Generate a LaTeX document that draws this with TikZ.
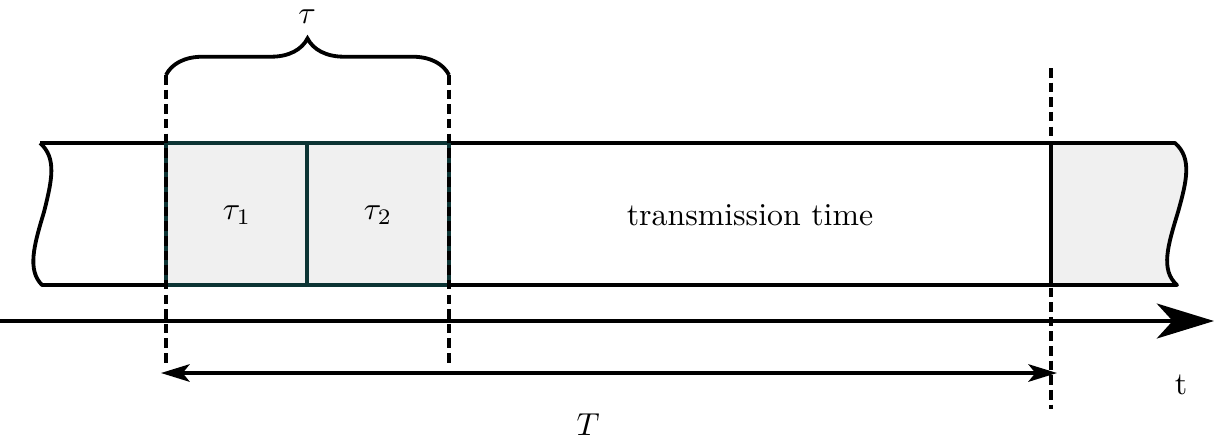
\documentclass[tikz,border=0pt]{standalone}
\usetikzlibrary{arrows.meta,decorations.pathreplacing}
\definecolor{cellgray}{RGB}{240,240,240}
\definecolor{celledge}{RGB}{12,52,52}

\begin{document}
\begin{tikzpicture}[x=0.01105cm,y=-0.01105cm,
  band/.style={line width=1.2pt, line join=round},
  cell/.style={draw=celledge, line width=1.2pt},
  guide/.style={line width=1.05pt, dash pattern=on 3pt off 1.6pt},
  axis/.style={-{Stealth[length=18pt,width=11pt,inset=5pt]}, line width=1.1pt},
  span/.style={{Stealth[length=9pt,width=5.5pt,inset=2.2pt]}-{Stealth[length=9pt,width=5.5pt,inset=2.2pt]}, line width=1.1pt},
  lbl/.style={inner sep=1pt}
]
\useasboundingbox (0,0) rectangle (1214,445);

% Key points
\coordinate (b1) at (166,143);
\coordinate (b2) at (449,285);
\coordinate (tx) at (0,321);
\coordinate (ty) at (1214,321);
\coordinate (Tl) at (161,373);
\coordinate (Tr) at (1057,373);

% Shaded parts
\fill[cellgray] (b1) rectangle (b2);
\fill[cellgray] (1051,143) -- (1175,143)
  .. controls (1192,158) and (1187,180) .. (1178,212)
  .. controls (1168,245) and (1160,270) .. (1177,285) -- (1051,285) -- cycle;

% Band
\draw[band] (40,143) -- (1175,143)
  .. controls (1192,158) and (1187,180) .. (1178,212)
  .. controls (1168,245) and (1160,270) .. (1177,285) -- (42,285)
  .. controls (27,270) and (34,245) .. (44,212)
  .. controls (52,180) and (57,158) .. (40,143);
\draw[band] (1051,143) -- (1051,285);

% Preamble cells
\draw[cell] (b1) rectangle (b2);
\draw[cell] (307,143) -- (307,285);
\node[lbl] (tau1) at (237,215) {$\tau_1$};
\node[lbl] (tau2) at (378,215) {$\tau_2$};
\node[lbl] (tx-time) at (750,215) {transmission time};

% Guide lines
\draw[guide] (166,75) -- (166,367);
\draw[guide] (449,75) -- (449,365);
\draw[guide] (1051,68) -- (1051,409);

% Brace
\draw[line width=1.2pt, decorate, decoration={brace, amplitude=11.5pt}]
  (166,75) -- (449,75);
\node[lbl] (tau) at (307,17) {$\tau$};

% Time axis and frame length
\draw[axis] (tx) -- (ty);
\node[lbl] (t) at (1181,385) {t};
\draw[span] (Tl) -- (Tr);
\node[lbl] (T) at (588,425) {$T$};
\end{tikzpicture}
\end{document}
